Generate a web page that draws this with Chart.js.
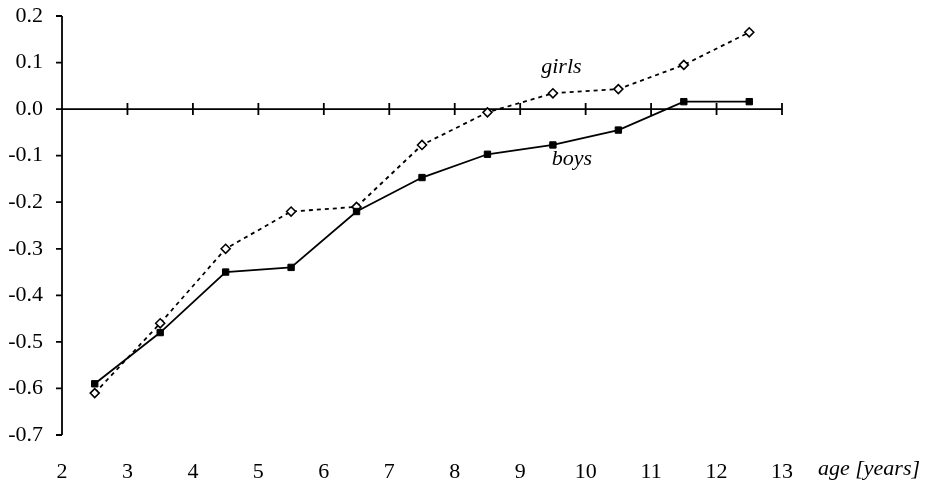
<!DOCTYPE html>
<html>
<head>
<meta charset="utf-8">
<script src="https://cdn.jsdelivr.net/npm/chart.js@4"></script>
<style>
  html, body { margin: 0; padding: 0; background: #fff; }
  #wrap { width: 927px; height: 485px; }
</style>
</head>
<body>
<div id="wrap"><canvas id="ageChart"></canvas></div>
<script>
const ages = [2.5, 3.5, 4.5, 5.5, 6.5, 7.5, 8.5, 9.5, 10.5, 11.5, 12.5];
const boys = [-0.59, -0.48, -0.35, -0.34, -0.22, -0.147, -0.097, -0.077, -0.045, 0.016, 0.016];
const girls = [-0.61, -0.46, -0.30, -0.22, -0.21, -0.077, -0.007, 0.034, 0.043, 0.095, 0.165];
const xTicks = [2, 3, 4, 5, 6, 7, 8, 9, 10, 11, 12, 13];
const yTicks = [0.2, 0.1, 0.0, -0.1, -0.2, -0.3, -0.4, -0.5, -0.6, -0.7];

const serif = '"Liberation Serif", "DejaVu Serif", serif';

// axis lines drawn by hand: x axis sits at y = 0, ticks cross it
const axesPlugin = {
    id: 'axes',
    beforeDatasetsDraw(chart) {
        const { ctx, scales: { x, y } } = chart;
        const x0 = x.getPixelForValue(2);
        const y0 = y.getPixelForValue(0);
        ctx.save();
        ctx.strokeStyle = '#000';
        ctx.lineWidth = 1.8;
        ctx.beginPath();
        ctx.moveTo(x0, y.getPixelForValue(0.2));
        ctx.lineTo(x0, y.getPixelForValue(-0.7));
        yTicks.forEach(v => {
            const py = y.getPixelForValue(v);
            ctx.moveTo(x0 - 6, py);
            ctx.lineTo(x0, py);
        });
        ctx.moveTo(x0, y0);
        ctx.lineTo(x.getPixelForValue(13), y0);
        xTicks.slice(1).forEach(v => {
            const px = x.getPixelForValue(v);
            ctx.moveTo(px, y0 - 6);
            ctx.lineTo(px, y0 + 6);
        });
        ctx.stroke();
        ctx.restore();
    },
    afterDraw(chart) {
        const { ctx, scales: { x, y } } = chart;
        ctx.save();
        ctx.fillStyle = '#000';
        ctx.font = 'italic 22px ' + serif;
        ctx.textAlign = 'center';
        ctx.textBaseline = 'middle';
        ctx.fillText('girls', x.getPixelForValue(9.63), y.getPixelForValue(0.09));
        ctx.fillText('boys', x.getPixelForValue(9.79), y.getPixelForValue(-0.108));
        ctx.textAlign = 'left';
        ctx.fillText('age [years]', x.getPixelForValue(13) + 36, y.bottom + 34);
        ctx.restore();
    }
};

new Chart(document.getElementById('ageChart'), {
    type: 'line',
    data: {
        datasets: [{
            label: 'boys',
            data: ages.map((a, i) => ({ x: a, y: boys[i] })),
            borderColor: '#000',
            borderWidth: 1.8,
            pointStyle: 'rect',
            pointRadius: 4.5,
            pointBackgroundColor: '#000',
            pointBorderColor: '#000',
            pointBorderWidth: 1,
            tension: 0
        }, {
            label: 'girls',
            data: ages.map((a, i) => ({ x: a, y: girls[i] })),
            borderColor: '#000',
            borderWidth: 1.8,
            borderDash: [4, 4],
            pointStyle: 'rectRot',
            pointRadius: 4.5,
            pointBackgroundColor: '#fff',
            pointBorderColor: '#000',
            pointBorderWidth: 1.6,
            tension: 0
        }]
    },
    options: {
        responsive: true,
        maintainAspectRatio: false,
        animation: false,
        layout: { padding: { top: 16, right: 145, left: 0, bottom: 0 } },
        plugins: { legend: { display: false }, tooltip: { enabled: false } },
        scales: {
            x: {
                type: 'linear',
                min: 2,
                max: 13,
                grid: { display: false, drawTicks: false },
                border: { display: false },
                afterBuildTicks: s => { s.ticks = xTicks.map(v => ({ value: v })); },
                afterFit: s => { s.height = 50; },
                ticks: {
                    padding: 24,
                    color: '#000',
                    font: { family: serif, size: 22 },
                    maxRotation: 0
                }
            },
            y: {
                min: -0.7,
                max: 0.2,
                grid: { display: false, drawTicks: false },
                border: { display: false },
                afterBuildTicks: s => { s.ticks = yTicks.map(v => ({ value: v })); },
                afterFit: s => {
                    s.width = 62;
                    s.paddingTop = 0;
                    s.paddingBottom = 0;
                },
                ticks: {
                    padding: 19,
                    color: '#000',
                    font: { family: serif, size: 22 },
                    callback: v => v.toFixed(1)
                }
            }
        }
    },
    plugins: [axesPlugin]
});
</script>
</body>
</html>
